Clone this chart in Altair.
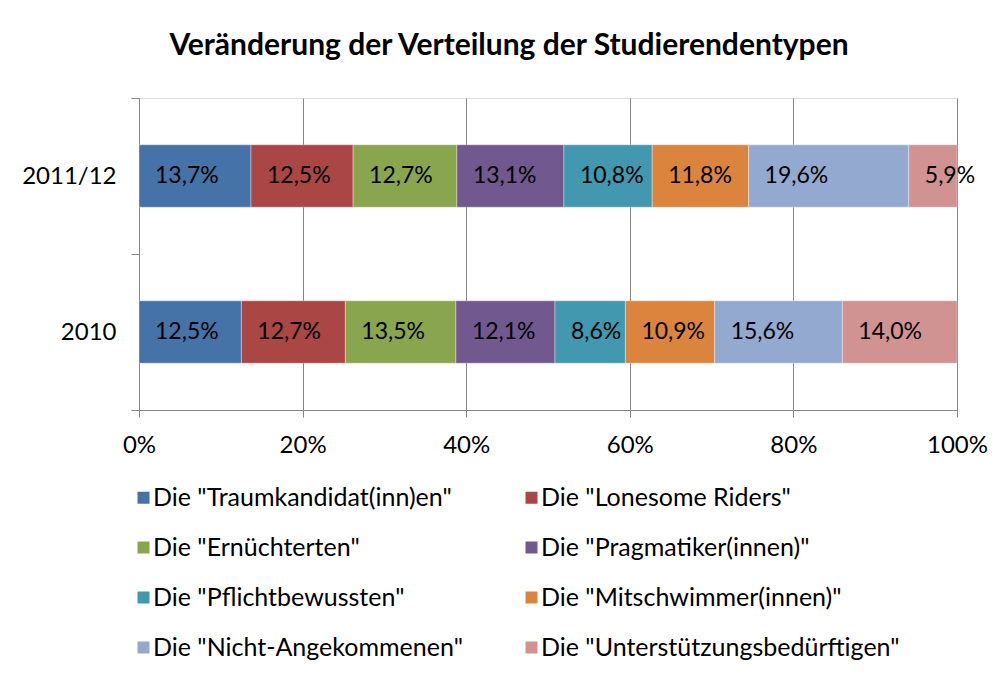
import altair as alt
import pandas as pd

years = ["2011/12", "2010"]
types = [
    'Die "Traumkandidat(inn)en"',
    'Die "Lonesome Riders"',
    'Die "Ernüchterten"',
    'Die "Pragmatiker(innen)"',
    'Die "Pflichtbewussten"',
    'Die "Mitschwimmer(innen)"',
    'Die "Nicht-Angekommenen"',
    'Die "Unterstützungsbedürftigen"',
]
values_2011 = [13.7, 12.5, 12.7, 13.1, 10.8, 11.8, 19.6, 5.9]
values_2010 = [12.5, 12.7, 13.5, 12.1, 8.6, 10.9, 15.6, 14.0]
labels_2011 = ["13,7%", "12,5%", "12,7%", "13,1%", "10,8%", "11,8%", "19,6%", "5,9%"]
labels_2010 = ["12,5%", "12,7%", "13,5%", "12,1%", "8,6%", "10,9%", "15,6%", "14,0%"]
colors = ["#4572A7", "#AA4643", "#89A54E", "#71588F", "#4198AF", "#DB843D", "#93A9CF", "#D09392"]
x_ticks = [0, 0.2, 0.4, 0.6, 0.8, 1.0]

rows = []
for y, vals, labs in [("2011/12", values_2011, labels_2011), ("2010", values_2010, labels_2010)]:
    for i, (t, v, l) in enumerate(zip(types, vals, labs)):
        rows.append({"year": y, "type": t, "order": i, "value": v, "label": l})
df = pd.DataFrame(rows)

FONT = "Lato"

base = alt.Chart(df).transform_stack(
    stack="value",
    as_=["v0", "v1"],
    groupby=["year"],
    sort=[alt.SortField("order", order="ascending")],
    offset="normalize",
)

yenc = alt.Y(
    "year:N",
    sort=years,
    title=None,
    scale=alt.Scale(paddingInner=0, paddingOuter=0),
    axis=alt.Axis(
        tickBand="extent",
        tickSize=8,
        tickColor="#868686",
        domainColor="#868686",
        labelFontSize=24,
        labelFont=FONT,
        labelColor="#000000",
        labelPadding=15,
        grid=False,
    ),
)

bars = base.mark_bar(
    stroke="#ffffff", strokeWidth=0.6, strokeOpacity=0.6,
    height=alt.RelativeBandSize(0.4),
).encode(
    x=alt.X(
        "v0:Q",
        title=None,
        scale=alt.Scale(domain=[0, 1], nice=False),
        axis=alt.Axis(
            values=x_ticks,
            format=".0%",
            grid=True,
            gridColor="#868686",
            gridWidth=1,
            tickSize=7,
            tickColor="#868686",
            domainColor="#868686",
            labelFontSize=24,
            labelFont=FONT,
            labelColor="#000000",
            labelPadding=16,
            labelFlush=False,
        ),
    ),
    x2="v1:Q",
    y=yenc,
    color=alt.Color(
        "type:N",
        sort=types,
        scale=alt.Scale(domain=types, range=colors),
        legend=alt.Legend(
            title=None,
            orient="none",
            direction="horizontal",
            legendX=-8,
            legendY=387,
            padding=0,
            columns=2,
            symbolType="square",
            symbolSize=144,
            symbolStrokeWidth=0,
            symbolOffset=0,
            labelFont=FONT,
            labelFontSize=25,
            labelColor="#000000",
            labelOffset={"expr": "-3"},
            labelLimit=500,
            rowPadding=24,
            columnPadding=56,
        ),
    ),
    order=alt.Order("order:Q"),
)

text = base.mark_text(
    align="left", baseline="middle", dx=16, fontSize=23, font=FONT, color="#000000"
).encode(
    x=alt.X("v0:Q"),
    y=alt.Y("year:N", sort=years),
    text="label:N",
)

chart = (
    alt.layer(bars, text)
    .properties(
        width=818,
        height=312,
        title=alt.TitleParams(
            "Veränderung der Verteilung der Studierendentypen",
            font=FONT,
            fontSize=30,
            fontWeight="bold",
            color="#000000",
            anchor="middle",
            dx=-39,
            offset=25,
        ),
        autosize=alt.AutoSizeParams(type="none"),
        padding={"left": 131, "top": 90, "right": 41, "bottom": 259},
    )
    .configure_view(stroke=None)
    .configure(background="#ffffff")
)

chart.save("out.html", embed_options={"renderer": "svg", "actions": False})
